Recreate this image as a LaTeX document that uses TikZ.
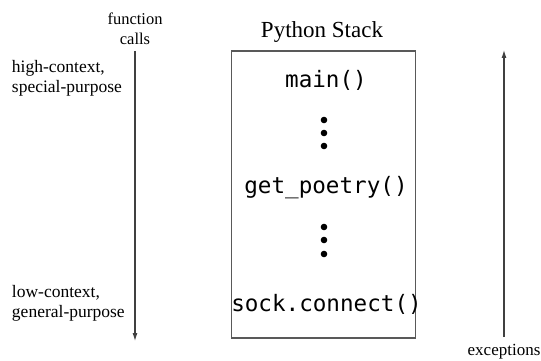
\documentclass[tikz,border=0pt]{standalone}
\usepackage{fontspec}
\setmainfont{Liberation Serif}
\setmonofont{DejaVu Sans Mono}
\usetikzlibrary{arrows.meta,positioning}

\begin{document}
\begin{tikzpicture}[x=1pt,y=-1pt,every node/.style={inner sep=0pt,outer sep=0pt}]

      \tikzset{
        label/.style={align=left,anchor=west,font=\fontsize{17.5}{20}\selectfont},
        frame/.style={font=\fontsize{22.6}{24}\ttfamily},
        flow/.style={draw=black!75,line width=1.1pt,-{Latex[length=8pt,width=5pt]}}
      }
      \useasboundingbox (0,0) rectangle (541,361);

      % the stack box
      \node[draw=black!65,line width=1.5pt,minimum width=184pt,minimum height=287pt] (stack) at (323.5,194.5) {};
      \node[font=\fontsize{23}{24}\selectfont] (title) at (322,32) {Python Stack};

      % the frames
      \node[frame] (main) at (326,80) {main()};
      \node[frame] (poetry) at (326,188) {get\_poetry()};
      \node[frame] (sock) at (326.5,304) {sock.connect()};

      % the dots between frames
      \foreach \y in {120,133,146,227,240,254}
        \fill (324,\y) circle (3.3pt);

      % left side: function calls
      \node[align=center,font=\fontsize{16.5}{20}\selectfont] (calls) at (135,29) {function\\calls};
      \coordinate (callsTop) at (135,51);
      \coordinate (callsEnd) at (135,341);
      \draw[flow] (callsTop) -- (callsEnd);
      \node[label] (high) at (12,78) {high-context,\\special-purpose};
      \node[label] (low) at (12,303) {low-context,\\general-purpose};

      % right side: exceptions
      \coordinate (excBottom) at (504,337);
      \coordinate (excTop) at (504,50);
      \draw[flow] (excBottom) -- (excTop);
      \node[font=\fontsize{17}{20}\selectfont] (exc) at (504,352) {exceptions};

\end{tikzpicture}
\end{document}
